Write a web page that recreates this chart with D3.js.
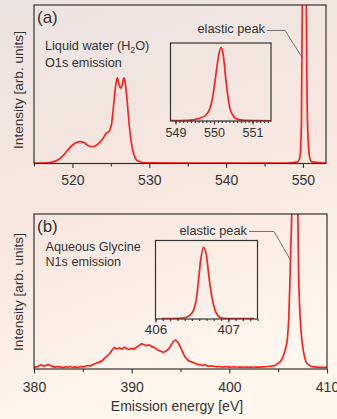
<!DOCTYPE html>
<html>
<head>
<meta charset="utf-8">
<script src="https://cdn.jsdelivr.net/npm/d3@7"></script>
<style>
  html, body { margin: 0; padding: 0; }
  body { width: 337px; height: 419px; overflow: hidden; }
  svg { display: block; font-family: "Liberation Sans", Arial, sans-serif; }
</style>
</head>
<body>
<svg id="chart" width="337" height="419"></svg>
<script>
// O1s emission of liquid water, panel (a) [energy eV, intensity]
const waterMain = [
  [515, 0.002], [516, 0.003], [517, 0.006], [517.6, 0.012], [518.2, 0.025],
  [518.8, 0.05], [519.4, 0.085], [520.0, 0.115], [520.5, 0.132], [521.0, 0.138],
  [521.5, 0.132], [522.0, 0.115], [522.5, 0.106], [523.0, 0.112], [523.5, 0.13],
  [524.0, 0.16], [524.4, 0.19], [524.8, 0.205], [525.1, 0.25], [525.35, 0.36],
  [525.6, 0.48], [525.85, 0.54], [526.05, 0.5], [526.3, 0.475], [526.5, 0.5],
  [526.7, 0.54], [526.9, 0.5], [527.15, 0.38], [527.4, 0.24], [527.7, 0.12],
  [528.0, 0.055], [528.4, 0.02], [529, 0.008], [530, 0.004], [535, 0.002],
  [540, 0.002], [545, 0.002], [548, 0.003], [549.3, 0.01], [549.6, 0.04],
  [549.8, 0.25], [549.92, 1.0], [550.05, 3], [550.2, 4], [550.35, 3],
  [550.44, 1.0], [550.6, 0.25], [550.87, 0.04], [551.2, 0.01], [553, 0.003]
];
// elastic peak of (a), inset
const waterInset = [
  [548.87, 0.004], [549.3, 0.008], [549.6, 0.03], [549.8, 0.08], [549.9, 0.17],
  [549.97, 0.32], [550.03, 0.52], [550.1, 0.78], [550.18, 0.945], [550.24, 0.85],
  [550.31, 0.52], [550.36, 0.32], [550.41, 0.17], [550.48, 0.08], [550.57, 0.03],
  [550.8, 0.008], [551.48, 0.003]
];
// N1s emission of aqueous glycine, panel (b)
const glycineMain = [
  [380.0, 0.012], [380.25, 0.014], [380.5, 0.02], [380.75, 0.026], [381.0, 0.018],
  [381.25, 0.024], [381.5, 0.028], [381.75, 0.02], [382.0, 0.014], [382.25, 0.012],
  [382.5, 0.016], [382.75, 0.012], [383.0, 0.01], [383.25, 0.014], [383.5, 0.012],
  [383.75, 0.016], [384.0, 0.011], [384.25, 0.014], [384.5, 0.01], [384.75, 0.015],
  [385.0, 0.014], [385.25, 0.018], [385.5, 0.022], [385.75, 0.02], [386.0, 0.028],
  [386.25, 0.034], [386.5, 0.04], [386.75, 0.046], [387.0, 0.055], [387.25, 0.07],
  [387.5, 0.085], [387.75, 0.1], [388.0, 0.122], [388.25, 0.138], [388.5, 0.13],
  [388.75, 0.136], [389.0, 0.128], [389.25, 0.14], [389.5, 0.132], [389.75, 0.126],
  [390.0, 0.134], [390.25, 0.128], [390.5, 0.14], [390.75, 0.15], [391.0, 0.162],
  [391.25, 0.158], [391.5, 0.15], [391.75, 0.156], [392.0, 0.146], [392.25, 0.14],
  [392.5, 0.132], [392.75, 0.12], [393.0, 0.114], [393.25, 0.108], [393.5, 0.115],
  [393.75, 0.128], [394.0, 0.15], [394.25, 0.176], [394.5, 0.186], [394.75, 0.17],
  [395.0, 0.14], [395.25, 0.105], [395.5, 0.075], [395.75, 0.058], [396.0, 0.048],
  [396.25, 0.044], [396.5, 0.036], [396.75, 0.03], [397.0, 0.028], [397.25, 0.024],
  [397.5, 0.026], [397.75, 0.02], [398.0, 0.018], [398.25, 0.02], [398.5, 0.016],
  [398.75, 0.014], [399.0, 0.016], [399.25, 0.012], [399.5, 0.014], [399.75, 0.015],
  [400.0, 0.012], [400.5, 0.014], [401.0, 0.012], [401.5, 0.013], [402.0, 0.011],
  [402.5, 0.013], [403.0, 0.012], [403.5, 0.014], [404.0, 0.016], [404.5, 0.02],
  [404.75, 0.026], [405.0, 0.036], [405.25, 0.05], [405.5, 0.08], [405.75, 0.13],
  [405.95, 0.2], [406.1, 0.35], [406.2, 0.56], [406.3, 0.8], [406.4, 1.05],
  [406.5, 1.8], [406.7, 3.0], [406.9, 1.8], [407.0, 1.05], [407.1, 0.6],
  [407.2, 0.4], [407.35, 0.24], [407.5, 0.15], [407.7, 0.08], [407.85, 0.047],
  [408.1, 0.028], [408.5, 0.015], [409, 0.012], [410, 0.01]
];
// elastic peak of (b), inset
const glycineInset = [
  [406.08, 0.005], [406.25, 0.006], [406.38, 0.013], [406.46, 0.04], [406.52, 0.107],
  [406.56, 0.25], [406.59, 0.49], [406.62, 0.75], [406.66, 0.913], [406.70, 0.8],
  [406.74, 0.49], [406.78, 0.25], [406.82, 0.107], [406.86, 0.04], [406.91, 0.013],
  [407.05, 0.006], [407.35, 0.005]
];

const ticksA = [520, 530, 540, 550], minorA = [515, 525, 535, 545];
const ticksB = [380, 390, 400, 410], minorB = [385, 395, 405];
const insetTicksA = [549, 550, 551], insetTicksB = [406, 407];

const red = "#ff1f1f", ink = "#333";
const svg = d3.select("#chart");

// background
const grad = svg.append("defs").append("linearGradient")
  .attr("id", "bg").attr("x1", 0).attr("y1", 0).attr("x2", 0.3).attr("y2", 1);
grad.append("stop").attr("offset", "0%").attr("stop-color", "#ebe3e2");
grad.append("stop").attr("offset", "55%").attr("stop-color", "#f7e7df");
grad.append("stop").attr("offset", "100%").attr("stop-color", "#fff7ee");
svg.append("rect").attr("width", 337).attr("height", 419).attr("fill", "url(#bg)");

let clipId = 0;
function plot(box, xDomain, yMax, data, major, minor, opt) {
  const x = d3.scaleLinear().domain(xDomain).range([box.l, box.r]);
  const y = d3.scaleLinear().domain([0, yMax]).range([box.b, box.t]);
  const id = "clip" + (clipId++);
  svg.append("clipPath").attr("id", id).append("rect")
    .attr("x", box.l).attr("y", box.t).attr("width", box.r - box.l).attr("height", box.b - box.t);

  svg.append("path")
    .datum(data)
    .attr("clip-path", "url(#" + id + ")")
    .attr("fill", "none")
    .attr("stroke", red)
    .attr("stroke-width", 1.7)
    .attr("stroke-linejoin", "round")
    .attr("d", d3.line().x(d => x(d[0])).y(d => y(d[1])).curve(d3.curveMonotoneX));

  const gMinor = svg.append("g").attr("transform", "translate(0," + box.b + ")")
    .call(d3.axisBottom(x).tickValues(minor).tickSize(opt.minorLen).tickFormat(""));
  const gMajor = svg.append("g").attr("transform", "translate(0," + box.b + ")")
    .call(d3.axisBottom(x).tickValues(major).tickSize(opt.majorLen).tickFormat(d3.format("d")));
  [gMinor, gMajor].forEach(g => {
    g.select(".domain").remove();
    g.selectAll("line").attr("stroke", ink).attr("stroke-width", 1.1);
  });
  gMajor.selectAll("text")
    .attr("fill", ink)
    .attr("font-size", opt.fontSize)
    .attr("font-family", "'Liberation Sans', Arial, sans-serif")
    .attr("dy", null)
    .attr("y", opt.labelY);

  svg.append("rect").attr("x", box.l).attr("y", box.t)
    .attr("width", box.r - box.l).attr("height", box.b - box.t)
    .attr("fill", "none").attr("stroke", ink).attr("stroke-width", 1.2);
  return x;
}

// panel (a)
plot({ l: 34, r: 326, t: 5, b: 163.5 }, [515, 553], 1, waterMain, ticksA, minorA,
  { majorLen: 4.5, minorLen: 3, fontSize: 14, labelY: 21.5 });
plot({ l: 170.5, r: 271, t: 43, b: 121 }, [548.87, 551.48], 1, waterInset, insetTicksA,
  d3.range(549, 551.45, 0.1).map(v => +v.toFixed(1)),
  { majorLen: 3.5, minorLen: 2, fontSize: 12.5, labelY: 16 });

// panel (b)
plot({ l: 34, r: 327, t: 214, b: 369 }, [380, 410], 1, glycineMain, ticksB, minorB,
  { majorLen: 4.5, minorLen: 3, fontSize: 14, labelY: 23 });
plot({ l: 155.5, r: 257.5, t: 240.5, b: 319 }, [406, 407.4], 1, glycineInset, insetTicksB,
  d3.range(406, 407.45, 0.1).map(v => +v.toFixed(1)),
  { majorLen: 3.5, minorLen: 2, fontSize: 13.5, labelY: 15 });

// texts
function label(x, y, txt, size, anchor) {
  return svg.append("text").attr("x", x).attr("y", y).attr("fill", ink)
    .attr("font-size", size).attr("text-anchor", anchor || "start").text(txt);
}
label(37, 23, "(a)", 17);
label(37, 231.5, "(b)", 17);

const t1 = svg.append("text").attr("x", 45).attr("y", 49.5).attr("fill", ink).attr("font-size", 12.7);
t1.append("tspan").text("Liquid water (H");
t1.append("tspan").attr("font-size", 8.8).attr("dy", 3).text("2");
t1.append("tspan").attr("dy", -3).text("O)");
label(45, 67, "O1s emission", 12.7);
label(45.5, 250.5, "Aqueous Glycine", 12.6);
label(45.5, 265.5, "N1s emission", 12.6);

label(265, 33, "elastic peak", 12.8, "end");
label(247, 234.5, "elastic peak", 12.8, "end");
svg.append("path").attr("d", "M267,30.5H285L302.5,58").attr("fill", "none").attr("stroke", "#555").attr("stroke-width", 0.8);
svg.append("path").attr("d", "M249,231.5H274L290.5,260").attr("fill", "none").attr("stroke", "#555").attr("stroke-width", 0.8);

svg.append("text").attr("transform", "translate(22.5,90) rotate(-90)")
  .attr("text-anchor", "middle").attr("fill", ink).attr("font-size", 13.6)
  .text("Intensity [arb. units]");
svg.append("text").attr("transform", "translate(22.5,292) rotate(-90)")
  .attr("text-anchor", "middle").attr("fill", ink).attr("font-size", 13.6)
  .text("Intensity [arb. units]");

label(177, 410.5, "Emission energy [eV]", 14, "middle");
</script>
</body>
</html>
